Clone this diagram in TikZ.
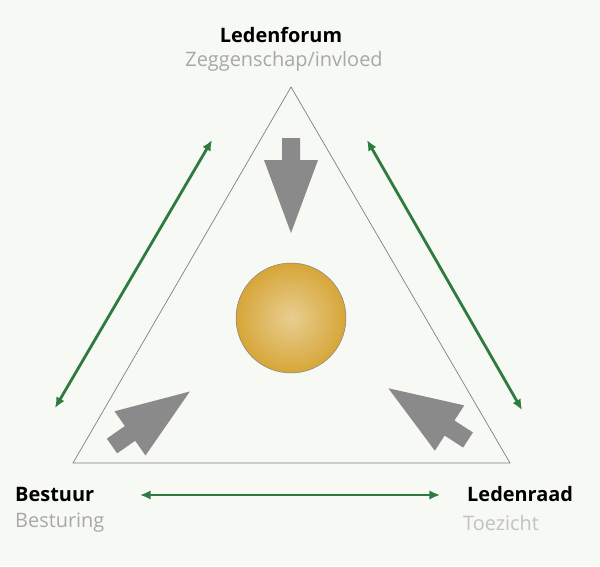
\documentclass[tikz,border=0pt]{standalone}
\usepackage{fontspec}
\setmainfont{Open Sans}
\usetikzlibrary{positioning,arrows.meta}
\definecolor{colorbg}{HTML}{F7F9F4}
\definecolor{colorgreen}{HTML}{2F7A3E}
\definecolor{colorblock}{HTML}{8A8A8A}
\definecolor{colorsub}{HTML}{A8A8A8}
\definecolor{colorgold}{HTML}{D6A638}
\tikzset{
  title/.style={inner sep=0pt, font=\fontsize{17}{20}\selectfont\bfseries},
  subtitle/.style={inner sep=0pt, text=colorsub, font=\fontsize{17}{20}\selectfont},
  blockarrow/.style={fill=colorblock, draw=none},
  edgegreen/.style={colorgreen, line width=2.4pt, {Latex[length=9pt,width=8pt]}-{Latex[length=9pt,width=8pt]}}
}
\newcommand\blockpath{(0,-9) -- (22,-9) -- (22,-27) -- (95,0) -- (22,27) -- (22,9) -- (0,9) -- cycle}
\begin{document}
\begin{tikzpicture}[x=0.03cm, y=-0.03cm]
\fill[colorbg] (0,0) rectangle (600,566);
\useasboundingbox (0,0) rectangle (600,566);

% triangle
\coordinate (top) at (291,87);
\coordinate (left) at (73,463);
\coordinate (right) at (510,463);
\draw[gray, line width=0.6pt] (top) -- (left) -- (right) -- cycle;

% centre
\shade[inner color=colorgold!55!white, outer color=colorgold, draw=gray]
  (291,318) circle (55);

% block arrows
\fill[blockarrow, shift={(291,138)}, rotate=-90] \blockpath;
\fill[blockarrow, shift={(112,446)}, rotate=35] \blockpath;
\fill[blockarrow, shift={(468,440)}, rotate=147] \blockpath;

% labels
\node[title] (forum) at (281,35) {Ledenforum};
\node[subtitle] (forumsub) at (284,61) {Zeggenschap/invloed};
\node[title, anchor=west] (bestuur) at (15,494) {Bestuur};
\node[subtitle, anchor=west] (bestuursub) at (15,523) {Besturing};
\node[title, anchor=west] (raad) at (467,494) {Ledenraad};
\node[subtitle, anchor=west, text=colorsub!70] (raadsub) at (463,523) {Toezicht};

% green arrows
\coordinate (gla) at (55,408);
\coordinate (glb) at (212,140);
\coordinate (gra) at (367,140);
\coordinate (grb) at (522,410);
\coordinate (gba) at (140,495);
\coordinate (gbb) at (440,495);
\draw[edgegreen] (gla) -- (glb);
\draw[edgegreen] (gra) -- (grb);
\draw[edgegreen] (gba) -- (gbb);
\end{tikzpicture}
\end{document}
